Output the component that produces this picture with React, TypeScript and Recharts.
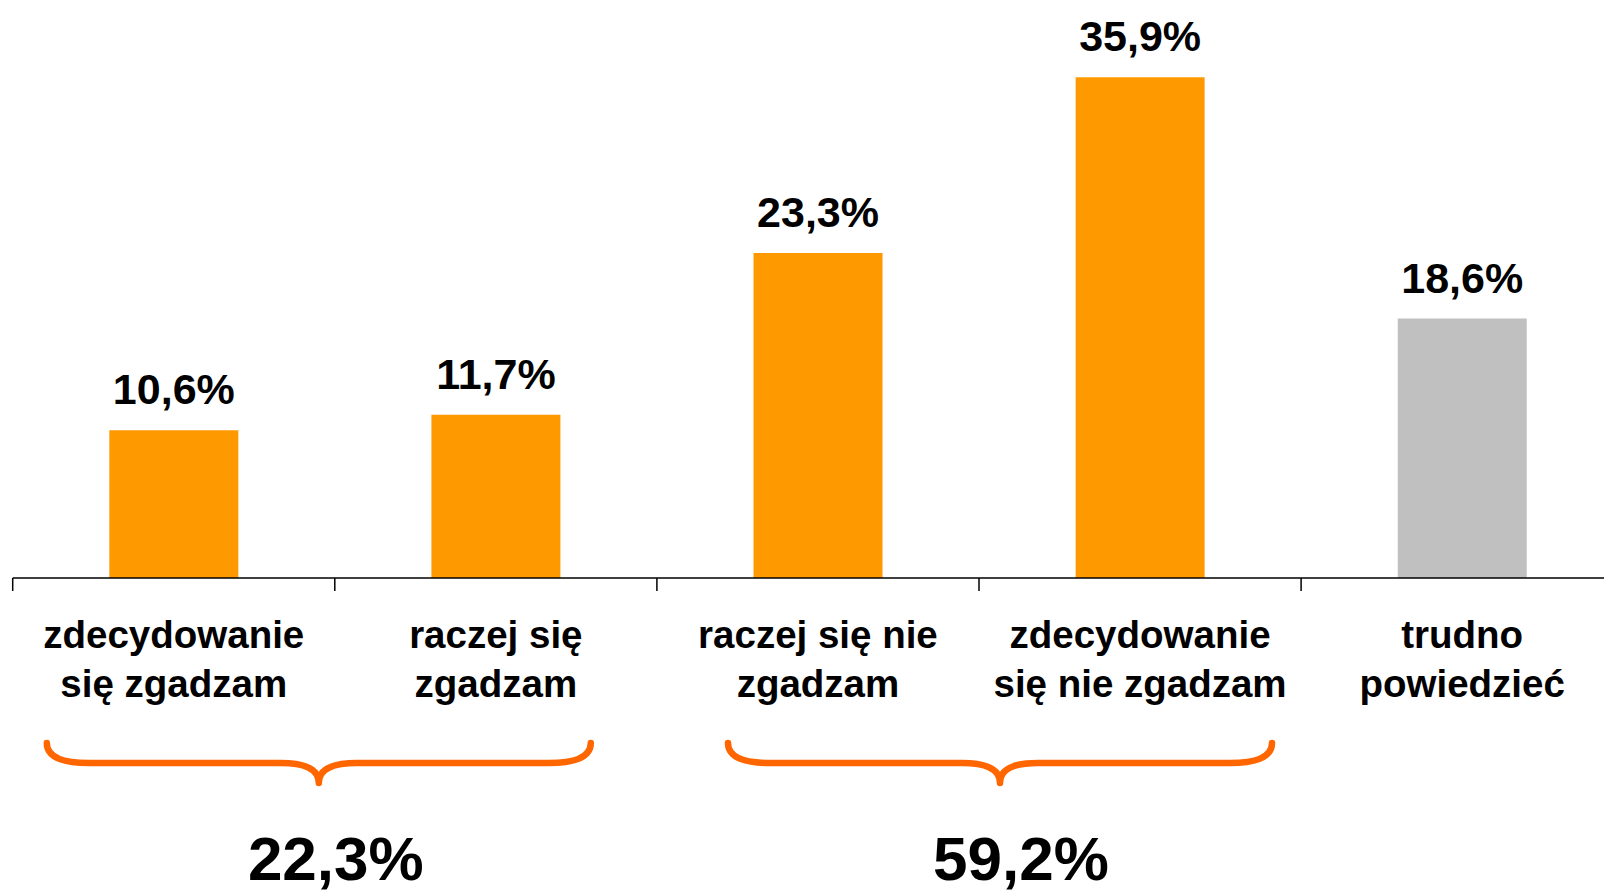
import React from 'react';
import { BarChart, Bar, XAxis, YAxis, Cell, LabelList } from 'recharts';

// answers (category labels split into the two lines drawn under the axis)
const CATEGORY_LINES = [
  ['zdecydowanie', 'się zgadzam'],
  ['raczej się', 'zgadzam'],
  ['raczej się nie', 'zgadzam'],
  ['zdecydowanie', 'się nie zgadzam'],
  ['trudno', 'powiedzieć'],
];
const CATEGORIES = CATEGORY_LINES.map(l => l.join(' '));
const VALUES = [10.6, 11.7, 23.3, 35.9, 18.6];
const NEUTRAL = 'trudno powiedzieć';

// summed groups shown under the braces
const GROUP_RANGES = [[0, 1], [2, 3]];
const GROUP_VALUES = [22.3, 59.2];

const data = CATEGORIES.map((name, i) => ({ name, value: VALUES[i] }));

// layout
const CHART_W = 1633;
const CHART_H = 893;
const MARGIN = { top: 20, right: 9.8, left: 12.7, bottom: 0 };
const XAXIS_H = 315;
const AXIS_Y = CHART_H - XAXIS_H;
const BAND = (CHART_W - MARGIN.left - MARGIN.right) / CATEGORIES.length;
const GROUP_LAYOUT = [
  { braceShift: -16, labelShift: 1 },
  { braceShift: 21, labelShift: 42 },
];

const ORANGE = '#FF9900';
const GREY = '#C0C0C0';
const BRACE = '#FF6600';
const FONT = '"Liberation Sans", Arial, Helvetica, sans-serif';

const fmt = (v: number) => `${v.toFixed(1).replace('.', ',')}%`;

const bracePath = (L: number, R: number, C: number) => {
  const yT = 743, yM = 763, yB = 783;
  return `M ${L} ${yT} Q ${L} ${yM} ${L + 42} ${yM} L ${C - 38} ${yM} Q ${C} ${yM} ${C} ${yB} ` +
    `Q ${C} ${yM} ${C + 38} ${yM} L ${R - 42} ${yM} Q ${R} ${yM} ${R} ${yT}`;
};

const CategoryTick = (props: any) => {
  const { x, payload } = props;
  const idx = payload.index;
  const lines = CATEGORY_LINES[idx] || [];
  const gi = GROUP_RANGES.findIndex(r => r[0] === idx);
  let group = null;
  if (gi >= 0) {
    const [from, to] = GROUP_RANGES[gi];
    const mid = x + ((to - from) * BAND) / 2;
    const C = mid + GROUP_LAYOUT[gi].braceShift;
    const half = 272;
    group = (
      <g>
        <path d={bracePath(C - half, C + half, C)} fill="none" stroke={BRACE} strokeWidth={6.5} strokeLinecap="round" strokeLinejoin="round" />
        <text x={mid + GROUP_LAYOUT[gi].labelShift} y={880} textAnchor="middle" fontFamily={FONT} fontWeight="bold" fontSize={62} fill="#000">
          {fmt(GROUP_VALUES[gi])}
        </text>
      </g>
    );
  }
  return (
    <g>
      <line x1={x - BAND / 2} x2={x - BAND / 2} y1={AXIS_Y} y2={AXIS_Y + 13} stroke="#000" strokeWidth={1.5} />
      {idx === CATEGORIES.length - 1 && (
        <line x1={x + BAND / 2} x2={x + BAND / 2} y1={AXIS_Y} y2={AXIS_Y + 13} stroke="#000" strokeWidth={1.5} />
      )}
      {lines.map((t, i) => (
        <text key={i} x={x} y={648 + i * 49} textAnchor="middle" fontFamily={FONT} fontWeight="bold" fontSize={38.5} fill="#000">
          {t}
        </text>
      ))}
      {group}
    </g>
  );
};

const ValueLabel = (props: any) => {
  const { x, y, width, value } = props;
  return (
    <text x={x + width / 2} y={y - 26} textAnchor="middle" fontFamily={FONT} fontWeight="bold" fontSize={43} fill="#000">
      {fmt(value)}
    </text>
  );
};

export default function App() {
  return (
    <div style={{ position: 'absolute', left: 0, top: 0, width: 1604, height: 893, overflow: 'hidden', background: '#fff' }}>
      <BarChart width={CHART_W} height={CHART_H} data={data} margin={MARGIN} barCategoryGap="30%">
        <XAxis
          dataKey="name"
          height={XAXIS_H}
          interval={0}
          tickLine={false}
          tickSize={0}
          tickMargin={0}
          axisLine={{ stroke: '#000', strokeWidth: 1.5 }}
          tick={<CategoryTick />}
        />
        <YAxis hide domain={[0, 40]} />
        <Bar dataKey="value" isAnimationActive={false}>
          {data.map((d, i) => (
            <Cell key={i} fill={d.name === NEUTRAL ? GREY : ORANGE} />
          ))}
          <LabelList dataKey="value" content={<ValueLabel />} />
        </Bar>
      </BarChart>
    </div>
  );
}
